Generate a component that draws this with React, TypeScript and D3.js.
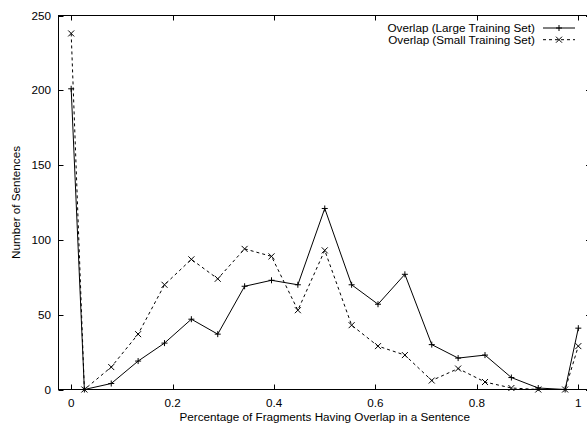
import React, { useEffect, useRef } from 'react';
import * as d3 from 'd3';

// bin centres along the x axis (0 and 1 are separate end bins)
const xValues = [0, 0.026, 0.079, 0.132, 0.184, 0.237, 0.289, 0.342, 0.395, 0.447, 0.5, 0.553, 0.605, 0.658, 0.711, 0.763, 0.816, 0.868, 0.921, 0.974, 1];
const largeSet = [201, 0, 4, 19, 31, 47, 37, 69, 73, 70, 121, 70, 57, 77, 30, 21, 23, 8, 1, 0, 41];
const smallSet = [238, 0, 15, 37, 70, 87, 74, 94, 89, 53, 93, 43, 29, 23, 6, 14, 5, 1, 0, 0, 29];
const xTicks = [0, 0.2, 0.4, 0.6, 0.8, 1];
const yTicks = [0, 50, 100, 150, 200, 250];
const seriesNames = ['Overlap (Large Training Set)', 'Overlap (Small Training Set)'];

const W = 587;
const H = 425;

const App = () => {
  const svgRef = useRef<SVGSVGElement>(null);

  useEffect(() => {
    const svg = d3.select(svgRef.current);
    svg.selectAll('*').remove();

    const left = 58.5;
    const right = 591;
    const top = 15.5;
    const bottom = 389.5;

    const x = d3.scaleLinear().domain([-0.025, 1.025]).range([left, right]);
    const y = d3.scaleLinear().domain([0, 250]).range([bottom, top]);

    const font = 'Liberation Sans, Arial, Helvetica, sans-serif';
    const g = svg.append('g').attr('font-family', font).attr('font-size', 11.7).attr('fill', '#000');

    // frame
    g.append('rect')
      .attr('x', left).attr('y', top)
      .attr('width', right - left).attr('height', bottom - top)
      .attr('fill', 'none').attr('stroke', '#000').attr('stroke-width', 1);

    const tl = 5;
    // x ticks (inward, mirrored on top)
    xTicks.forEach((t) => {
      const px = Math.round(x(t)) + 0.5;
      g.append('line').attr('x1', px).attr('x2', px).attr('y1', bottom).attr('y2', bottom - tl).attr('stroke', '#000');
      g.append('line').attr('x1', px).attr('x2', px).attr('y1', top).attr('y2', top + tl).attr('stroke', '#000');
      g.append('text').attr('x', x(t)).attr('y', 406.5).attr('text-anchor', 'middle').text(d3.format('~g')(t));
    });

    // y ticks (inward, mirrored on right)
    yTicks.forEach((t) => {
      const py = Math.round(y(t)) + 0.5;
      g.append('line').attr('x1', left).attr('x2', left + tl).attr('y1', py).attr('y2', py).attr('stroke', '#000');
      g.append('line').attr('x1', right).attr('x2', right - tl).attr('y1', py).attr('y2', py).attr('stroke', '#000');
      g.append('text').attr('x', 51).attr('y', y(t) + 4).attr('text-anchor', 'end').text(t);
    });

    // axis labels
    g.append('text').attr('x', (left + right) / 2).attr('y', 420.5).attr('text-anchor', 'middle')
      .text('Percentage of Fragments Having Overlap in a Sentence');
    g.append('text').attr('transform', `translate(20,${(top + bottom) / 2}) rotate(-90)`)
      .attr('text-anchor', 'middle').text('Number of Sentences');

    const line = d3.line<[number, number]>().x((d) => x(d[0])).y((d) => y(d[1]));
    const series = [
      { values: largeSet, dash: null, mark: 'plus' },
      { values: smallSet, dash: '3,3', mark: 'cross' },
    ];

    const drawMark = (sel: any, cx: number, cy: number, mark: string) => {
      const s = 3;
      if (mark === 'plus') {
        sel.append('path').attr('d', `M${cx - s},${cy}H${cx + s}M${cx},${cy - s}V${cy + s}`)
          .attr('stroke', '#000').attr('fill', 'none');
      } else {
        sel.append('path').attr('d', `M${cx - s},${cy - s}L${cx + s},${cy + s}M${cx - s},${cy + s}L${cx + s},${cy - s}`)
          .attr('stroke', '#000').attr('fill', 'none');
      }
    };

    series.forEach((s) => {
      const pts = xValues.map((xv, i) => [xv, s.values[i]] as [number, number]);
      g.append('path').datum(pts).attr('d', line)
        .attr('fill', 'none').attr('stroke', '#000').attr('stroke-width', 1)
        .attr('stroke-dasharray', s.dash);
      pts.forEach((p) => drawMark(g, x(p[0]), y(p[1]), s.mark));
    });

    // legend
    seriesNames.forEach((name, i) => {
      const ly = 27.5 + i * 11.7;
      g.append('text').attr('x', 535).attr('y', ly + 4.3).attr('text-anchor', 'end').text(name);
      g.append('line').attr('x1', 543).attr('x2', 575).attr('y1', ly + 0.5).attr('y2', ly + 0.5)
        .attr('stroke', '#000').attr('stroke-dasharray', series[i].dash);
      drawMark(g, 559, ly + 0.5, series[i].mark);
    });
  }, []);

  return (
    <svg ref={svgRef} width={W} height={H}
      style={{ position: 'absolute', left: 0, top: 0, background: '#fff', overflow: 'hidden' }} />
  );
};

export default App;
